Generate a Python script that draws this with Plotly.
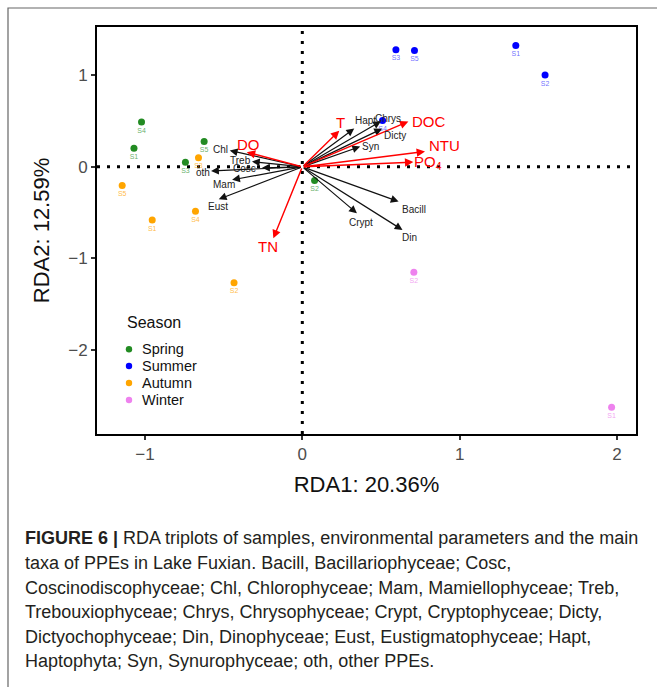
import plotly.graph_objects as go

# ---------------- data ----------------
seasons = ["Spring", "Summer", "Autumn", "Winter"]
spring_names = ["S1", "S2", "S3", "S4", "S5"]
spring_rda1 = [-1.07, 0.078, -0.743, -1.022, -0.624]
spring_rda2 = [0.205, -0.15, 0.051, 0.49, 0.277]
summer_names = ["S1", "S2", "S3", "S4", "S5"]
summer_rda1 = [1.357, 1.543, 0.595, 0.51, 0.713]
summer_rda2 = [1.329, 1.004, 1.281, 0.507, 1.274]
autumn_names = ["S1", "S2", "S3", "S4", "S5"]
autumn_rda1 = [-0.954, -0.434, -0.66, -0.679, -1.145]
autumn_rda2 = [-0.58, -1.267, 0.099, -0.485, -0.205]
winter_names = ["S1", "S2"]
winter_rda1 = [1.966, 0.709]
winter_rda2 = [-2.63, -1.153]

taxa = ["Bacill", "Cosc", "Chl", "Mam", "Treb", "Chrys", "Crypt", "Dicty", "Din", "Eust", "Hapt", "Syn", "oth"]
taxa_rda1 = [0.612, -0.256, -0.461, -0.446, -0.32, 0.50, 0.347, 0.507, 0.637, -0.531, 0.33, 0.368, -0.58]
taxa_rda2 = [-0.38, -0.01, 0.179, -0.142, 0.058, 0.50, -0.507, 0.417, -0.69, -0.354, 0.42, 0.222, -0.044]

env = ["T", "DOC", "NTU", "PO<sub>4</sub>", "DO", "TN"]
env_rda1 = [0.235, 0.674, 0.78, 0.706, -0.353, -0.184]
env_rda2 = [0.395, 0.497, 0.168, 0.052, 0.161, -0.782]

x_ticks = [-1, 0, 1, 2]
y_ticks = [-2, -1, 0, 1]
x_title = "RDA1: 20.36%"
y_title = "RDA2: 12.59%"
legend_title = "Season"

caption_lines = [
    "<b>FIGURE 6 |</b> RDA triplots of samples, environmental parameters and the main",
    "taxa of PPEs in Lake Fuxian. Bacill, Bacillariophyceae; Cosc,",
    "Coscinodiscophyceae; Chl, Chlorophyceae; Mam, Mamiellophyceae; Treb,",
    "Trebouxiophyceae; Chrys, Chrysophyceae; Crypt, Cryptophyceae; Dicty,",
    "Dictyochophyceae; Din, Dinophyceae; Eust, Eustigmatophyceae; Hapt,",
    "Haptophyta; Syn, Synurophyceae; oth, other PPEs.",
]

# ---------------- styles ----------------
FONT = "Liberation Sans, Arial, sans-serif"
point_colors = {"Spring": "#228B22", "Summer": "#0000FF", "Autumn": "#FFA500", "Winter": "#EE82EE"}
label_colors = {"Spring": "rgba(34,139,34,0.7)", "Summer": "rgba(0,0,255,0.6)",
                "Autumn": "rgba(255,165,0,0.75)", "Winter": "rgba(238,130,238,0.75)"}
taxa_shift = {"Bacill": (15, -8), "Cosc": (-18, -1), "Chl": (-9, 1), "Mam": (-8, -5), "Treb": (-11, 1),
              "Chrys": (7, 3), "Crypt": (4, -9), "Dicty": (13, -7), "Din": (7, -8), "Eust": (-1, -7),
              "Hapt": (11, 8), "Syn": (10, 0), "oth": (-8, -2)}
env_shift = {"T": (1, 8), "DOC": (21, 0), "NTU": (19, 6), "PO<sub>4</sub>": (15, 0), "DO": (2, 8), "TN": (-5, -8)}

W, H = 657, 687
L, R, T, B = 97, 21, 27, 253
plot_w = W - L - R
plot_h = H - T - B


def px_to_paper_x(px):
    return (px - L) / plot_w


def px_to_paper_y(py):
    return (H - B - py) / plot_h


fig = go.Figure()

season_data = {
    "Spring": (spring_names, spring_rda1, spring_rda2),
    "Summer": (summer_names, summer_rda1, summer_rda2),
    "Autumn": (autumn_names, autumn_rda1, autumn_rda2),
    "Winter": (winter_names, winter_rda1, winter_rda2),
}

annotations = []
shapes = []

# arrows for taxa (black)
for name, xv, yv in zip(taxa, taxa_rda1, taxa_rda2):
    annotations.append(dict(x=xv, y=yv, ax=0, ay=0, xref="x", yref="y", axref="x", ayref="y",
                            text="", showarrow=True, arrowhead=2, arrowsize=1.3, arrowwidth=1.2,
                            arrowcolor="#111111", standoff=0))
# arrows for env (red)
for name, xv, yv in zip(env, env_rda1, env_rda2):
    annotations.append(dict(x=xv, y=yv, ax=0, ay=0, xref="x", yref="y", axref="x", ayref="y",
                            text="", showarrow=True, arrowhead=2, arrowsize=1.2, arrowwidth=1.4,
                            arrowcolor="#FF0000", standoff=0))

# sample points
for s in seasons:
    names, xs, ys = season_data[s]
    fig.add_trace(go.Scatter(
        x=xs, y=ys, mode="markers+text", name=s, text=names, textposition="bottom center",
        marker=dict(color=point_colors[s], size=7),
        textfont=dict(family=FONT, size=7, color=label_colors[s]),
        showlegend=False,
    ))

# labels
for name, xv, yv in zip(taxa, taxa_rda1, taxa_rda2):
    dx, dy = taxa_shift[name]
    annotations.append(dict(x=xv, y=yv, xref="x", yref="y", text=name, showarrow=False,
                            xshift=dx, yshift=dy, font=dict(family=FONT, size=10, color="#222222")))
for name, xv, yv in zip(env, env_rda1, env_rda2):
    dx, dy = env_shift[name]
    annotations.append(dict(x=xv, y=yv, xref="x", yref="y", text=name, showarrow=False,
                            xshift=dx, yshift=dy, font=dict(family=FONT, size=15, color="#FF0000")))

# legend (drawn as keys + texts)
annotations.append(dict(x=px_to_paper_x(125), y=px_to_paper_y(322), xref="paper", yref="paper",
                        xanchor="left", yanchor="middle", text=legend_title, showarrow=False,
                        font=dict(family=FONT, size=16, color="#111111")))
legend_y = [349.3, 366, 383, 400]
for s, py in zip(seasons, legend_y):
    shapes.append(dict(type="circle", xref="paper", yref="paper", xsizemode="pixel", ysizemode="pixel",
                       xanchor=px_to_paper_x(129), yanchor=px_to_paper_y(py), x0=-3.2, x1=3.2, y0=-3.2, y1=3.2,
                       fillcolor=point_colors[s], line=dict(width=0)))
    annotations.append(dict(x=px_to_paper_x(140), y=px_to_paper_y(py), xref="paper", yref="paper",
                            xanchor="left", yanchor="middle", text=s, showarrow=False,
                            font=dict(family=FONT, size=14.5, color="#111111")))

# caption
cap_y = [538, 563, 588, 612, 637, 661]
for line, py in zip(caption_lines, cap_y):
    annotations.append(dict(x=px_to_paper_x(23), y=px_to_paper_y(py), xref="paper", yref="paper",
                            xanchor="left", yanchor="middle", text=line, showarrow=False,
                            font=dict(family=FONT, size=18, color="#231f20")))

shapes += [
    dict(type="line", xref="x", yref="paper", x0=0, x1=0, y0=0, y1=1,
         line=dict(color="black", width=3, dash="3px,7px"), layer="below"),
    dict(type="line", xref="paper", yref="y", x0=0, x1=1, y0=0, y1=0,
         line=dict(color="black", width=3, dash="3px,7px"), layer="below"),
    dict(type="rect", xref="paper", yref="paper",
         x0=px_to_paper_x(8), x1=px_to_paper_x(670), y0=px_to_paper_y(8), y1=px_to_paper_y(700),
         line=dict(color="#666666", width=1.2), fillcolor="rgba(0,0,0,0)"),
]

fig.update_layout(
    width=W, height=H,
    margin=dict(l=L, r=R, t=T, b=B, pad=0),
    paper_bgcolor="white", plot_bgcolor="white",
    font=dict(family=FONT),
    showlegend=False,
    xaxis=dict(range=[-1.305, 2.121], tickvals=x_ticks, ticktext=["\u22121", "0", "1", "2"],
               showgrid=False, zeroline=False, showline=True, mirror=True, linewidth=2, linecolor="black",
               ticks="outside", ticklen=4, tickwidth=1.5, tickcolor="#333333",
               tickfont=dict(family=FONT, size=17, color="#4d4d4d"),
               title=dict(text=x_title, font=dict(family=FONT, size=22, color="#111111"), standoff=13)),
    yaxis=dict(range=[-2.922, 1.53], tickvals=y_ticks, ticktext=["\u22122", "\u22121", "0", "1"],
               showgrid=False, zeroline=False, showline=True, mirror=True, linewidth=2, linecolor="black",
               ticks="outside", ticklen=4, tickwidth=1.5, tickcolor="#333333",
               tickfont=dict(family=FONT, size=17, color="#4d4d4d"),
               title=dict(text=y_title, font=dict(family=FONT, size=22, color="#111111"), standoff=13)),
    annotations=annotations,
    shapes=shapes,
)

fig.write_html("out.html")
